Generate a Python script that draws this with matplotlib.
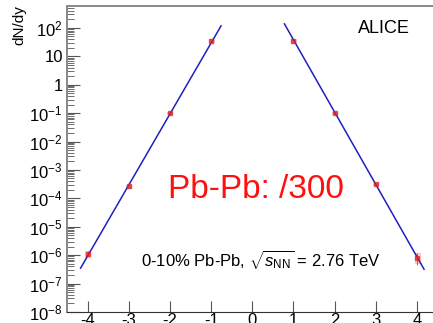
import numpy as np
import matplotlib
matplotlib.use("Agg")
import matplotlib.pyplot as plt
from matplotlib.patches import Rectangle
from matplotlib.ticker import LogLocator, FixedLocator

plt.rcParams["font.family"] = ["Liberation Sans", "DejaVu Sans"]
plt.rcParams["mathtext.fontset"] = "custom"
plt.rcParams["mathtext.rm"] = "Liberation Sans"
plt.rcParams["mathtext.it"] = "Liberation Sans:italic"

# mass number (negative = anti-nuclei) and yields
mass_num = [-4, -3, -2, -1, 1, 2, 3, 4]
dndy = [1.1e-6, 2.7e-4, 0.1, 35, 35, 0.1, 3.2e-4, 8e-7]
stat_lo = [1.5e-7, 1e-5, 2e-3, 0.5, 0.5, 2e-3, 1e-5, 3.5e-7]
stat_hi = [2.5e-7, 1e-5, 2e-3, 0.5, 0.5, 2e-3, 1e-5, 4e-7]
sys_lo = [2.5e-7, 3e-5, 1e-2, 4, 4, 1e-2, 3e-5, 2.5e-7]
sys_hi = [3e-7, 3e-5, 1e-2, 4, 4, 1e-2, 3e-5, 3.5e-7]

# exponential fits, endpoints
fit_left_x = [-4.17, -0.76]
fit_left_y = [3.5e-7, 117]
fit_right_x = [0.78, 4.17]
fit_right_y = [138, 3.2e-7]

x_ticks = [-4, -3, -2, -1, 0, 1, 2, 3, 4]
y_major = [1e-8, 1e-7, 1e-6, 1e-5, 1e-4, 1e-3, 1e-2, 1e-1, 1, 10, 100]
y_labels = ["$10^{-8}$", "$10^{-7}$", "$10^{-6}$", "$10^{-5}$", "$10^{-4}$",
            "$10^{-3}$", "$10^{-2}$", "$10^{-1}$", "1", "10", "$10^{2}$"]

fig = plt.figure(figsize=(4.33, 3.23), dpi=100)
ax = fig.add_axes([0.1547, 0.034, 0.856, 0.9476])

ax.plot(fit_left_x, fit_left_y, color="#2020c0", lw=1.1, zorder=3)
ax.plot(fit_right_x, fit_right_y, color="#2020c0", lw=1.1, zorder=3)

for x, y, slo, shi in zip(mass_num, dndy, sys_lo, sys_hi):
    ax.add_patch(Rectangle((x - 0.06, y - slo), 0.12, slo + shi,
                           facecolor="#ff9090", edgecolor="#ff7070",
                           alpha=0.4, lw=0.6, zorder=2))
ax.errorbar(mass_num, dndy, yerr=[stat_lo, stat_hi], fmt="s", color="#e02020",
            ms=3.2, mec="#e02020", elinewidth=0.8, capsize=0, alpha=0.7, zorder=4)

ax.set_yscale("log")
ax.set_xlim(-4.5, 4.5)
ax.set_ylim(1e-8, 590)

ax.yaxis.set_major_locator(FixedLocator(y_major))
ax.set_yticks(y_major)
ax.set_yticklabels(y_labels)
ax.yaxis.set_minor_locator(LogLocator(base=10, subs=np.arange(2, 10), numticks=30))
ax.yaxis.set_minor_formatter(matplotlib.ticker.NullFormatter())
ax.set_xticks(x_ticks)
ax.set_xticklabels([str(v) for v in x_ticks])

ax.tick_params(axis="y", which="major", direction="in", length=9, width=0.8,
               labelsize=12, pad=3, color="#555555")
ax.tick_params(axis="y", which="minor", direction="in", length=5, width=0.6,
               color="#555555")
ax.tick_params(axis="x", which="major", direction="in", length=8, width=0.8,
               labelsize=12, pad=1, color="#555555")

for side in ["top", "left"]:
    ax.spines[side].set_color("#888888")
    ax.spines[side].set_linewidth(1.4)
ax.spines["bottom"].set_color("#333333")
ax.spines["right"].set_visible(False)

fig.text(0.028, 0.985, "dN/dy", rotation=90, ha="left", va="top", fontsize=11)

ax.text(0.855, 0.955, "ALICE", transform=ax.transAxes, ha="center", va="top",
        fontsize=13)
ax.text(0.51, 0.40, "Pb-Pb: /300", transform=ax.transAxes, ha="center",
        va="center", fontsize=24, color="#ff1010")
ax.text(0.2, 0.17, r"0-10% Pb-Pb, $\sqrt{s_{\rm NN}}$ = 2.76 TeV",
        transform=ax.transAxes, ha="left", va="center", fontsize=12)

fig.savefig("out.png", dpi=100)
